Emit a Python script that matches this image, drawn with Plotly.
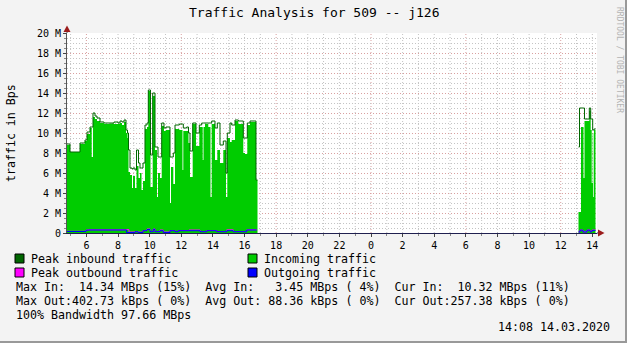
import plotly.graph_objects as go

TITLE = "Traffic Analysis for 509 -- j126"
Y_LABEL = "traffic in Bps"
WATERMARK = "RRDTOOL / TOBI OETIKER"
DATE_TEXT = "14:08 14.03.2020"

# ---- data: time in hours since 13.03.2020 00:00, values in M (Bytes/s) ----
IN_T1 = [4.772, 4.962, 5.594, 5.910, 6.037, 6.227, 6.334, 6.416, 6.543, 6.669,
         6.859, 7.112, 7.492, 7.745, 7.998, 8.124, 8.251, 8.377, 8.504, 8.599,
         8.662, 8.757, 8.883, 8.946, 9.073, 9.168, 9.294, 9.389, 9.484, 9.579,
         9.705, 9.832, 9.914, 10.053, 10.192, 10.338, 10.464, 10.528, 10.654, 10.762,
         10.907, 11.034, 11.287, 11.350, 11.495, 11.603, 11.875, 12.077, 12.128, 12.343,
         12.457, 12.552, 12.722, 12.931, 13.140, 13.292, 13.355, 13.406, 13.501, 13.709,
         13.848, 13.924, 14.133, 14.279, 14.449, 14.658, 14.829, 14.911, 15.082, 15.189,
         15.398, 15.607, 15.923, 16.031, 16.176, 16.347, 16.726, 16.821]
PEAK_IN1 = [8.9, 8.1, 9.0, 9.3, 10.1, 10.6, 10.6, 12.0, 11.7, 11.5,
            11.1, 11.0, 11.0, 11.1, 11.0, 11.2, 11.1, 11.3, 10.3, 10.0,
            8.3, 6.5, 6.4, 6.5, 6.3, 8.3, 7.0, 6.5, 6.5, 7.0,
            10.8, 11.0, 14.3, 7.8, 14.0, 8.6, 8.6, 7.6, 7.6, 11.0,
            10.5, 10.6, 7.6, 7.6, 8.0, 10.8, 10.9, 10.9, 10.5, 10.6,
            10.0, 8.2, 11.0, 10.0, 10.8, 11.0, 11.0, 11.0, 11.0, 11.0,
            11.0, 11.2, 10.5, 11.0, 8.8, 9.2, 6.0, 10.0, 11.0, 10.8,
            11.3, 11.2, 9.5, 9.5, 11.0, 11.2, 5.3, 5.3]
AVG_IN1 = [8.8, 8.1, 8.9, 9.2, 9.9, 10.5, 7.6, 11.6, 11.4, 11.2,
           11.0, 10.9, 10.95, 10.9, 10.9, 11.0, 10.8, 11.1, 10.0, 9.5,
           6.1, 5.8, 4.5, 5.7, 4.5, 6.7, 5.5, 6.0, 4.3, 5.2,
           10.4, 10.6, 14.2, 4.6, 13.7, 8.3, 3.6, 6.0, 5.5, 10.7,
           10.2, 10.3, 3.0, 6.6, 4.9, 10.4, 10.3, 6.3, 10.2, 10.2,
           9.0, 5.6, 10.9, 8.7, 10.6, 10.6, 7.3, 10.6, 10.9, 10.6,
           3.6, 10.9, 7.3, 8.3, 7.0, 8.3, 3.6, 9.5, 9.1, 9.3,
           11.2, 10.9, 8.0, 7.9, 10.8, 11.1, 5.3, 5.3]

IN_T2 = [37.125, 37.188, 37.283, 37.441, 37.504, 37.808, 37.896, 37.960, 38.023, 38.061, 38.105, 38.200]
PEAK_IN2 = [8.6, 12.5, 12.5, 12.5, 11.4, 12.5, 11.4, 11.4, 10.3, 10.3, 10.4, 10.4]
AVG_IN2 = [2.1, 2.1, 10.6, 5.5, 11.2, 12.2, 10.3, 5.0, 10.0, 3.6, 10.3, 10.3]

OUT_T1 = [4.772, 5.974, 6.132, 8.535, 8.693, 9.073, 9.263, 9.579, 9.832, 10.022,
          10.230, 10.338, 10.654, 10.863, 11.287, 11.603, 11.812, 12.488, 13.184, 13.608,
          14.241, 14.873, 15.290, 16.138, 16.771]
PEAK_OUT1 = [0.17, 0.30, 0.32, 0.35, 0.10, 0.15, 0.08, 0.25, 0.40, 0.15,
             0.40, 0.15, 0.30, 0.10, 0.25, 0.15, 0.25, 0.30, 0.15, 0.25,
             0.15, 0.32, 0.15, 0.32, 0.32]
AVG_OUT1 = [0.15, 0.28, 0.30, 0.05, 0.05, 0.13, 0.05, 0.23, 0.35, 0.13,
            0.37, 0.13, 0.23, 0.05, 0.23, 0.13, 0.23, 0.23, 0.13, 0.23,
            0.13, 0.23, 0.13, 0.30, 0.30]

OUT_T2 = [37.125, 37.220, 37.409, 37.662, 37.852, 37.979, 38.200]
PEAK_OUT2 = [0.12, 0.30, 0.12, 0.30, 0.15, 0.30, 0.30]
AVG_OUT2 = [0.10, 0.28, 0.10, 0.28, 0.12, 0.26, 0.26]

X_RANGE = [4.772, 38.295]
X_TICKS = [6, 8, 10, 12, 14, 16, 18, 20, 22, 24, 26, 28, 30, 32, 34, 36, 38]
X_TICK_LABELS = ["6", "8", "10", "12", "14", "16", "18", "20", "22",
                 "0", "2", "4", "6", "8", "10", "12", "14"]
Y_TICKS = [0, 2, 4, 6, 8, 10, 12, 14, 16, 18, 20]
Y_TICK_LABELS = ["0", "2 M", "4 M", "6 M", "8 M", "10 M", "12 M", "14 M", "16 M", "18 M", "20 M"]

LEGEND_ITEMS = [("Peak inbound traffic", "#006600"), ("Incoming traffic", "#00CC00"),
                ("Peak outbound traffic", "#FF00FF"), ("Outgoing traffic", "#0000FF")]
STAT_LINES = [
    "Max In:  14.34 MBps (15%)  Avg In:   3.45 MBps ( 4%)  Cur In:  10.32 MBps (11%)",
    "Max Out:402.73 kBps ( 0%)  Avg Out: 88.36 kBps ( 0%)  Cur Out:257.38 kBps ( 0%)",
    "100% Bandwidth 97.66 MBps",
]

# ---- style ----
W, H = 627, 343
L, R, T, B = 67, 30, 33, 110
PW, PH = W - L - R, H - T - B
MONO = "DejaVu Sans Mono"
GRID_GRAY = "#C4C4C4"
GRID_RED = "#D9A0A0"
DOT = "1px,2px"
ARROW = "#9B1C1C"


def px(x):
    return (x - L) / PW


def py(y):
    return (H - B - y) / PH


def join(a, b):
    return a + [None] + b


fig = go.Figure()
for tt, vv in ((IN_T1, AVG_IN1), (IN_T2, AVG_IN2)):
    fig.add_trace(go.Scatter(x=tt, y=vv, mode="lines",
                             line=dict(shape="hv", width=0, color="#00CC00"),
                             fill="tozeroy", fillcolor="#00CC00", hoverinfo="skip"))
fig.add_trace(go.Scatter(x=join(IN_T1, IN_T2), y=join(PEAK_IN1, PEAK_IN2), mode="lines",
                         line=dict(shape="hv", width=1, color="#006600"), connectgaps=False))
fig.add_trace(go.Scatter(x=join(OUT_T1, OUT_T2), y=join(PEAK_OUT1, PEAK_OUT2), mode="lines",
                         line=dict(shape="hv", width=1, color="#FF00FF"), connectgaps=False))
fig.add_trace(go.Scatter(x=join(OUT_T1, OUT_T2), y=join(AVG_OUT1, AVG_OUT2), mode="lines",
                         line=dict(shape="hv", width=1, color="#0000FF"), connectgaps=False))

shapes = []
# vertical grid (hourly gray, every 6 h red)
for h in range(int(X_RANGE[0]) + 1, int(X_RANGE[1]) + 1):
    shapes.append(dict(type="line", xref="x", yref="paper", x0=h, x1=h, y0=0, y1=1,
                       layer="below",
                       line=dict(color=GRID_RED if h % 6 == 0 else GRID_GRAY, width=1, dash=DOT)))
# axis extensions and arrows
shapes.append(dict(type="line", xref="paper", yref="paper", x0=0, x1=0, y0=1, y1=py(28),
                   line=dict(color="#555555", width=1)))
shapes.append(dict(type="line", xref="paper", yref="paper", x0=1, x1=px(599), y0=0, y1=0,
                   line=dict(color="#202050", width=1)))
shapes.append(dict(type="path", xref="paper", yref="paper",
                   path=f"M {px(63.5)},{py(32)} L {px(70.5)},{py(32)} L {px(67)},{py(25.5)} Z",
                   fillcolor=ARROW, line=dict(width=0)))
shapes.append(dict(type="path", xref="paper", yref="paper",
                   path=f"M {px(598)},{py(229.5)} L {px(598)},{py(236.5)} L {px(604.5)},{py(233)} Z",
                   fillcolor=ARROW, line=dict(width=0)))
# frame shading
shapes.append(dict(type="rect", xref="paper", yref="paper", x0=px(625), x1=px(627),
                   y0=py(343), y1=py(0), fillcolor="#999999", line=dict(width=0)))
shapes.append(dict(type="rect", xref="paper", yref="paper", x0=px(0), x1=px(627),
                   y0=py(343), y1=py(341), fillcolor="#999999", line=dict(width=0)))

annotations = []
annotations.append(dict(text=TITLE, x=px(313.5), y=py(13), xref="paper", yref="paper",
                        xanchor="center", yanchor="middle", showarrow=False,
                        font=dict(family=MONO, size=13, color="#000000")))
annotations.append(dict(text=Y_LABEL.replace(" ", "\u00a0"), x=px(11), y=py(133), xref="paper",
                        yref="paper", xanchor="center", yanchor="middle", textangle=-90,
                        showarrow=False, font=dict(family=MONO, size=11.6, color="#000000")))
annotations.append(dict(text=WATERMARK.replace(" ", "\u00a0"), x=px(620), y=py(60), xref="paper",
                        yref="paper", xanchor="center", yanchor="middle", textangle=90,
                        showarrow=False, font=dict(family=MONO, size=8, color="#B4B4B4")))

LEG_FONT = dict(family=MONO, size=11.65, color="#000000")
leg_pos = [(15, 258.5), (248, 258.5), (15, 272.5), (248, 272.5)]
for (label, color), (lx, ly) in zip(LEGEND_ITEMS, leg_pos):
    shapes.append(dict(type="rect", xref="paper", yref="paper", x0=px(lx), x1=px(lx + 9),
                       y0=py(ly - 4.5), y1=py(ly + 4.5), fillcolor=color,
                       line=dict(color="#000000", width=1)))
    annotations.append(dict(text=label.replace(" ", "\u00a0"), x=px(lx + 13.5), y=py(ly),
                            xref="paper", yref="paper", xanchor="left", yanchor="middle",
                            showarrow=False, font=LEG_FONT))
for i, line in enumerate(STAT_LINES):
    annotations.append(dict(text=line.replace(" ", "\u00a0"), x=px(13.5), y=py(287 + 14 * i),
                            xref="paper", yref="paper", xanchor="left", yanchor="middle",
                            showarrow=False, font=LEG_FONT))
annotations.append(dict(text=DATE_TEXT.replace(" ", "\u00a0"), x=px(612), y=py(327),
                        xref="paper", yref="paper", xanchor="right", yanchor="middle",
                        showarrow=False, font=LEG_FONT))

fig.update_layout(
    width=W, height=H,
    margin=dict(l=L, r=R, t=T, b=B, pad=0),
    paper_bgcolor="#F3F3F3", plot_bgcolor="#FFFFFF",
    showlegend=False,
    font=dict(family=MONO, size=10, color="#000000"),
    shapes=shapes, annotations=annotations,
    xaxis=dict(range=X_RANGE, tickmode="array", tickvals=X_TICKS, ticktext=X_TICK_LABELS,
               showgrid=False, zeroline=False, ticks="outside", ticklen=3, tickcolor="#444444",
               showline=True, linecolor="#202050", linewidth=1,
               tickfont=dict(family=MONO, size=10, color="#000000"),
               minor=dict(dtick=1, tick0=0, ticks="outside", ticklen=2, tickcolor="#888888",
                          showgrid=False)),
    yaxis=dict(range=[0, 20], tickmode="array", tickvals=Y_TICKS, ticktext=Y_TICK_LABELS,
               showgrid=True, gridcolor=GRID_RED, griddash=DOT, gridwidth=1,
               zeroline=False, ticks="outside", ticklen=3, tickcolor="#444444",
               showline=True, linecolor="#555555", linewidth=1,
               tickfont=dict(family=MONO, size=10, color="#000000"),
               minor=dict(dtick=0.5, tick0=0, ticks="outside", ticklen=2, tickcolor="#888888",
                          showgrid=True, gridcolor=GRID_GRAY, griddash=DOT, gridwidth=1)),
)

fig.write_html("out.html")
